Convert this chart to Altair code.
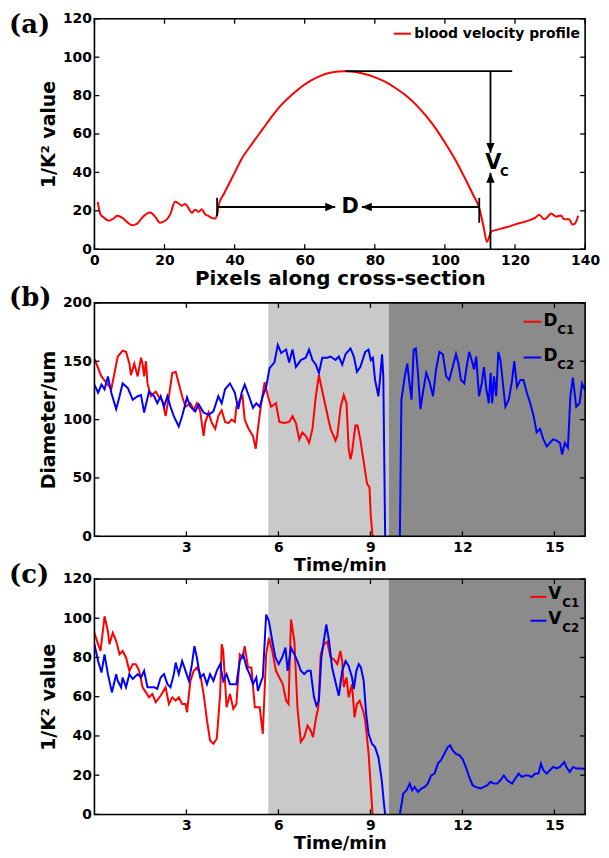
import altair as alt
import pandas as pd

# ---------------- data ----------------
# (a) blood velocity profile along the cross-section
prof_px = [0.95, 1.7, 2.6, 4.1, 5.5, 6.4, 7.9, 9.3, 10.7, 12.1, 14.0, 15.9, 17.3, 18.7, 20.2,
           21.6, 23.0, 24.0, 24.9, 25.9, 26.8, 27.8, 28.7, 29.7, 30.6, 31.6, 32.5, 33.5, 34.4,
           35.1, 35.4, 37.0, 39.5, 42.0, 45.0, 48.0, 50.6, 53.0, 56.1, 59.0, 61.6, 64.5, 67.2,
           69.5, 71.6, 74.5, 78.2, 81.0, 83.8, 86.5, 89.3, 92.0, 94.8, 97.6, 100.4, 103.0,
           105.9, 108.0, 109.8, 111.0, 112.0, 113.2, 115.0, 117.0, 118.4, 120.5, 122.2, 124.0,
           125.8, 126.9, 128.4, 129.3, 130.3, 131.7, 133.1, 134.0, 135.4, 136.4, 137.1, 138.0]
prof_val = [24.7, 18.3, 16.6, 14.8, 16.0, 17.4, 16.5, 14.2, 12.5, 13.2, 17.2, 19.1, 17.0, 13.8,
            14.8, 18.0, 24.7, 23.9, 22.7, 23.6, 21.5, 19.0, 20.5, 19.5, 20.8, 18.2, 17.4, 16.2,
            16.0, 18.6, 22.7, 29.0, 38.0, 47.0, 55.0, 62.5, 69.0, 74.5, 80.0, 84.5, 87.7, 90.3,
            91.9, 92.6, 92.7, 92.3, 90.7, 88.8, 86.4, 83.2, 79.4, 74.8, 69.0, 62.3, 54.4, 46.5,
            36.3, 28.5, 21.5, 12.0, 3.8, 9.2, 10.2, 11.2, 11.9, 13.2, 14.0, 15.0, 16.5, 17.9,
            15.6, 16.8, 18.6, 17.0, 17.6, 15.6, 15.6, 12.9, 13.3, 17.4]

# (b) diameters (um) vs time (min)
dc1_t = [0, 0.23, 0.55, 0.76, 0.92, 1.03, 1.14, 1.19, 1.3, 1.41, 1.52, 1.57, 1.62, 1.68, 1.73,
         1.84, 2.0, 2.11, 2.22, 2.32, 2.43, 2.54, 2.65, 2.75, 2.86, 2.97, 3.13, 3.24, 3.34, 3.45,
         3.56, 3.61, 3.72, 3.83, 3.94, 4.04, 4.15, 4.26, 4.37, 4.47, 4.58, 4.63, 4.74, 4.83, 4.9,
         5.01, 5.12, 5.17, 5.26, 5.33, 5.44, 5.55, 5.66, 5.76, 5.92, 6.03, 6.19, 6.35, 6.46,
         6.57, 6.68, 6.78, 6.89, 7.0, 7.11, 7.22, 7.32, 7.54, 7.7, 7.86, 7.92, 8.03, 8.13, 8.22,
         8.29, 8.35, 8.4, 8.51, 8.58, 8.67, 8.78, 8.89, 8.97, 9.01, 9.07]
dc1_v = [152, 137, 126, 154, 159, 158, 148, 138, 148, 137, 153, 148, 137, 150, 131,
         120, 124, 119, 116, 103, 120, 140, 141, 131, 120, 111, 114, 108, 114, 107,
         86, 97, 106, 97, 92, 103, 108, 98, 97, 100, 98, 111, 117, 120, 100,
         93, 88, 86, 75, 92, 114, 132, 120, 111, 114, 98, 97, 98, 103,
         97, 83, 89, 86, 80, 92, 120, 138, 111, 92, 82, 86, 111, 121, 114,
         75, 66, 72, 95, 95, 83, 64, 45, 42, 18, 0]
dc2a_t = [0, 0.12, 0.23, 0.33, 0.44, 0.55, 0.71, 0.82, 0.92, 1.09, 1.25, 1.41, 1.52, 1.62, 1.78,
          1.95, 2.05, 2.16, 2.27, 2.38, 2.48, 2.59, 2.75, 2.86, 3.02, 3.13, 3.29, 3.4, 3.56, 3.72,
          3.88, 4.04, 4.15, 4.26, 4.42, 4.58, 4.69, 4.8, 4.9, 5.04, 5.17, 5.28, 5.39, 5.49, 5.6,
          5.71, 5.87, 5.98, 6.09, 6.25, 6.35, 6.46, 6.57, 6.73, 6.89, 7.0, 7.11, 7.22, 7.32, 7.43,
          7.59, 7.7, 7.86, 7.97, 8.08, 8.19, 8.35, 8.46, 8.56, 8.67, 8.83, 8.94, 9.01, 9.08, 9.15,
          9.26, 9.32, 9.38, 9.42, 9.48]
dc2a_v = [130, 123, 130, 126, 137, 123, 109, 120, 131, 127, 117, 120, 121, 106, 124,
          120, 114, 120, 111, 120, 111, 103, 94, 103, 119, 111, 107, 113, 106, 104,
          107, 120, 114, 126, 131, 123, 109, 123, 130, 120, 110, 114, 111, 120, 128,
          144, 149, 164, 157, 160, 149, 160, 145, 151, 153, 160, 151, 147, 140, 153,
          153, 154, 151, 154, 147, 156, 161, 154, 141, 145, 158, 160, 151, 153, 134,
          120, 137, 156, 137, 0]
dc2b_t = [9.96, 10.01, 10.12, 10.2, 10.26, 10.34, 10.41, 10.48, 10.55, 10.63, 10.71, 10.82, 10.93,
          11.04, 11.14, 11.25, 11.36, 11.47, 11.57, 11.68, 11.79, 11.87, 11.95, 12.06, 12.13,
          12.22, 12.3, 12.38, 12.45, 12.54, 12.63, 12.7, 12.78, 12.86, 12.92, 12.97, 13.03, 13.1,
          13.17, 13.24, 13.32, 13.4, 13.51, 13.62, 13.69, 13.78, 13.89, 13.99, 14.1, 14.21,
          14.32, 14.42, 14.53, 14.64, 14.75, 14.85, 14.96, 15.07, 15.18, 15.25, 15.34, 15.44,
          15.52, 15.6, 15.71, 15.82, 15.9, 16.0]
dc2b_v = [0, 117, 137, 148, 134, 117, 160, 161, 140, 109, 123, 140, 132,
          120, 143, 158, 156, 137, 134, 145, 156, 148, 134, 131, 144,
          158, 151, 143, 154, 120, 131, 145, 126, 114, 140, 114, 137, 120,
          158, 151, 131, 111, 117, 134, 150, 128, 134, 134, 123, 114,
          103, 89, 92, 83, 77, 80, 83, 82, 80, 70, 80, 76,
          120, 136, 111, 114, 131, 125]

# (c) 1/K^2 values vs time (min)
vc1_t = [0, 0.12, 0.2, 0.33, 0.44, 0.49, 0.6, 0.71, 0.82, 0.92, 1.03, 1.14, 1.25, 1.35, 1.46,
         1.57, 1.68, 1.78, 1.89, 2.0, 2.16, 2.32, 2.43, 2.54, 2.65, 2.75, 2.86, 2.97, 3.02, 3.13,
         3.24, 3.34, 3.45, 3.56, 3.67, 3.77, 3.88, 3.99, 4.1, 4.15, 4.2, 4.31, 4.42, 4.53, 4.63,
         4.74, 4.83, 4.9, 5.01, 5.12, 5.23, 5.39, 5.49, 5.6, 5.69, 5.8, 5.92, 6.03, 6.14, 6.25,
         6.33, 6.41, 6.52, 6.62, 6.73, 6.84, 6.95, 7.05, 7.13, 7.22, 7.3, 7.38, 7.48, 7.59, 7.7,
         7.81, 7.92, 8.02, 8.08, 8.13, 8.22, 8.29, 8.4, 8.48, 8.56, 8.65, 8.76, 8.83, 8.94, 9.01,
         9.07]
vc1_v = [92.6, 86.7, 83.3, 101, 93.4, 86.7, 92.6, 88.4, 81.6, 83.3, 80, 73.2, 76.6, 76.6, 73.2,
         64.8, 62.2, 59.7, 61.4, 57.2, 60.5, 64.8, 56.3, 59.7, 58, 59.7, 56.3, 56.3, 52.1, 68.1,
         73.2, 74.9, 71.5, 61.4, 47.9, 37.7, 36, 38.6, 61.4, 86.7, 83.3, 54.6, 61.4, 53.8, 56.3,
         81.6, 80, 85.8, 74.9, 74.9, 54.6, 54.6, 41.1, 81.6, 90, 83.3, 73.2, 69.8, 66.4, 58,
         56.3, 99.4, 88.4, 54.6, 36.9, 39.4, 45.3, 42.8, 39.4, 48.7, 54.6, 81.6, 86.7, 88, 80,
         79, 76.6, 83.3, 78.2, 64.8, 69.8, 59.7, 66.4, 49.5, 56.3, 58, 52.9, 47.9, 31, 14.2,
         0]
vc2a_t = [0, 0.12, 0.23, 0.33, 0.44, 0.57, 0.71, 0.76, 0.87, 0.92, 1.03, 1.14, 1.25, 1.41, 1.52,
          1.62, 1.73, 1.95, 2.05, 2.16, 2.27, 2.38, 2.48, 2.59, 2.65, 2.75, 2.86, 2.97, 3.08,
          3.18, 3.26, 3.34, 3.45, 3.56, 3.67, 3.77, 3.88, 3.99, 4.1, 4.2, 4.31, 4.42, 4.53, 4.63,
          4.74, 4.85, 4.96, 5.06, 5.17, 5.28, 5.33, 5.44, 5.49, 5.6, 5.69, 5.8, 5.9, 6.01, 6.12,
          6.23, 6.3, 6.41, 6.52, 6.62, 6.73, 6.84, 6.95, 7.05, 7.16, 7.24, 7.32, 7.4, 7.48, 7.56,
          7.65, 7.75, 7.9, 7.97, 8.08, 8.19, 8.29, 8.4, 8.46, 8.54, 8.62, 8.69, 8.78, 8.86, 8.94,
          9.05, 9.15, 9.26, 9.37, 9.44, 9.48]
vc2a_v = [86.7, 78.2, 72.3, 81.6, 71.5, 62.2, 71.5, 68.1, 64.8, 69.8, 64.8, 71.5, 69, 71.5, 69.8,
          73.2, 64.8, 64.8, 64, 69.8, 71.5, 66.4, 64.8, 71.5, 77.4, 71.5, 78.2, 73.2, 68.1,
          76.6, 85.8, 80, 69.8, 71.5, 66.4, 71.5, 68.1, 73.2, 76.6, 68.1, 71.5, 66.4, 66.4, 66.4,
          78.2, 81.6, 74.9, 71.5, 66.4, 69.8, 63, 68.1, 69.8, 101.9, 98.5, 88.4, 80, 76.6, 80,
          85, 73.2, 85, 81.6, 78.2, 73.2, 71.5, 73.2, 73.2, 59.7, 55.5, 58, 80, 88.4, 96.8,
          88.4, 74.9, 64.8, 60.5, 73.2, 78.2, 75.7, 69.8, 64, 73.2, 76.6, 74.9, 68.1, 51.2, 41.1,
          36, 34.3, 29.2, 17.4, 5.6, 0]
vc2b_t = [9.96, 10.07, 10.18, 10.28, 10.36, 10.44, 10.55, 10.66, 10.77, 10.87, 10.98, 11.09, 11.2,
          11.3, 11.41, 11.52, 11.6, 11.68, 11.79, 11.9, 12.0, 12.11, 12.22, 12.33, 12.43, 12.59,
          12.7, 12.81, 12.92, 13.02, 13.13, 13.24, 13.35, 13.46, 13.62, 13.72, 13.83, 13.94,
          14.05, 14.15, 14.26, 14.37, 14.48, 14.56, 14.64, 14.74, 14.85, 14.96, 15.07, 15.18,
          15.32, 15.39, 15.5, 15.61, 15.71, 15.82, 15.9, 16.0]
vc2b_v = [0, 10.6, 12.3, 15.7, 12.3, 14, 11.5, 13.2, 14, 15.7, 19.9, 20.8, 25.9,
          27.6, 30.9, 34.3, 35.2, 32.6, 30.9, 30.1, 28.4, 24.2, 19.1, 14.9, 14, 13.2,
          14, 14.9, 16.6, 15.7, 15.7, 17.4, 19.9, 17.4, 15.7, 18.2, 20.8, 19.1,
          19.9, 19.9, 19.1, 20.8, 20.8, 25.9, 22.5, 20.8, 22.5, 24.2, 23.4, 24.2,
          26.7, 24.2, 21.6, 24.2, 23.4, 23.4, 23.4, 23.0]

# experiment phases (shaded backgrounds), minutes
phase_start = [5.67, 9.6]
phase_end = [9.6, 16.0]
phase_color = ["#c9c9c9", "#8b8b8b"]

# axis ticks
a_xticks = [0, 20, 40, 60, 80, 100, 120, 140]
a_yticks = [0, 20, 40, 60, 80, 100, 120]
b_xticks = [3, 6, 9, 12, 15]
b_yticks = [0, 50, 100, 150, 200]
c_yticks = [0, 20, 40, 60, 80, 100, 120]

# (a) annotations in data units
peak_x = [71.6, 119.2]
peak_y = 92.7
vc_x = 113.0
vc_down = [92.7, 50.2]
vc_up = [0.0, 39.8]
d_y = 22.0
d_left, d_right = 35.0, 109.8
d_tip_r, d_tip_l = 68.7, 76.3
d_bar_left = [17.3, 26.8]
d_bar_right = [13.8, 26.8]

RED = "#ff0000"
BLUE = "#0000ff"
FONT = "DejaVu Sans"
W = 494
TL = 5  # inward tick length
ARROW = "M0,0L-1,-0.42L-1,0.42Z"


def axes(xdom, ydom, xvals, yvals, xtitle, ytitle, xtsize=18, ytsize=19):
    xax = alt.Axis(values=xvals, ticks=False, domain=False, grid=False, labelFont=FONT,
                   labelFontWeight="bold", labelFontSize=14, labelColor="black", labelPadding=4,
                   labelFlush=False, labelOverlap=False, titleFont=FONT, titleFontWeight="bold",
                   titleFontSize=xtsize, titleColor="black", titlePadding=2)
    yax = alt.Axis(values=yvals, ticks=False, domain=False, grid=False, labelFont=FONT,
                   labelFontWeight="bold", labelFontSize=14, labelColor="black", labelPadding=3,
                   labelFlush=False, labelOverlap=False, titleFont=FONT, titleFontWeight="bold",
                   titleFontSize=ytsize, titleColor="black", titlePadding=4)

    def X(f):
        return alt.X(f, type="quantitative", scale=alt.Scale(domain=xdom, nice=False, zero=False),
                     axis=xax, title=xtitle)

    def Y(f):
        return alt.Y(f, type="quantitative", scale=alt.Scale(domain=ydom, nice=False, zero=False),
                     axis=yax, title=ytitle)
    return X, Y


def frame_layers(X, Y, xvals, yvals, H, tag, tag_y):
    xt = pd.DataFrame({"v": xvals})
    yt = pd.DataFrame({"v": yvals})
    one = pd.DataFrame({"k": [0]})
    r = dict(color="black", strokeWidth=1.3)
    return [
        alt.Chart(xt).mark_rule(**r).encode(x=X("v"), y=alt.value(H), y2=alt.value(H - TL)),
        alt.Chart(xt).mark_rule(**r).encode(x=X("v"), y=alt.value(0), y2=alt.value(TL)),
        alt.Chart(yt).mark_rule(**r).encode(y=Y("v"), x=alt.value(0), x2=alt.value(TL)),
        alt.Chart(yt).mark_rule(**r).encode(y=Y("v"), x=alt.value(W), x2=alt.value(W - TL)),
        alt.Chart(one).mark_rect(fillOpacity=0, stroke="black", strokeWidth=1.6).encode(
            x=alt.value(0), x2=alt.value(W), y=alt.value(0), y2=alt.value(H)),
        alt.Chart(one).mark_text(text=tag, font="DejaVu Serif", fontWeight="bold", fontSize=26,
                                 align="left", baseline="middle", color="black").encode(
            x=alt.value(-86), y=alt.value(tag_y)),
    ]


def line(X, Y, t, v, color):
    df = pd.DataFrame({"t": t, "v": v})
    return alt.Chart(df).mark_line(color=color, strokeWidth=2, clip=True).encode(x=X("t"), y=Y("v"))


def shading(X, H):
    df = pd.DataFrame({"start": phase_start, "end": phase_end, "shade": phase_color})
    return alt.Chart(df).mark_rect().encode(
        x=X("start"), x2="end", y=alt.value(0), y2=alt.value(H),
        color=alt.Color("shade:N", scale=None))


def legend_entry(sym, sub, color, lx0, lx1, ly, tx, ty, sx, sy):
    one = pd.DataFrame({"k": [0]})
    return [
        alt.Chart(one).mark_rule(color=color, strokeWidth=2).encode(
            x=alt.value(lx0), x2=alt.value(lx1), y=alt.value(ly)),
        alt.Chart(one).mark_text(text=sym, font=FONT, fontWeight="bold", fontSize=17, align="left",
                                 baseline="middle", color="black").encode(x=alt.value(tx), y=alt.value(ty)),
        alt.Chart(one).mark_text(text=sub, font=FONT, fontWeight="bold", fontSize=12, align="left",
                                 baseline="middle", color="black").encode(x=alt.value(sx), y=alt.value(sy)),
    ]


# ---------------- panel (a) ----------------
HA = 232
Xa, Ya = axes([0, 140], [0, 120], a_xticks, a_yticks, "Pixels along cross-section", "1/K² value",
              xtsize=20)
prof = pd.DataFrame({"p": prof_px, "v": prof_val, "name": "blood velocity profile"})
prof_line = alt.Chart(prof).mark_line(strokeWidth=2, clip=True, interpolate="monotone").encode(
    x=Xa("p"), y=Ya("v"),
    color=alt.Color("name:N", scale=alt.Scale(domain=["blood velocity profile"], range=[RED]),
                    legend=alt.Legend(orient="top-right", title=None, symbolType="stroke",
                                      symbolStrokeWidth=2, symbolSize=300, labelFont=FONT,
                                      labelFontWeight="bold", labelFontSize=14, labelColor="black",
                                      labelLimit=400, offset=5, padding=0, labelOffset=2)))

blk = dict(color="black", strokeWidth=1.8)
ann = []
ann.append(alt.Chart(pd.DataFrame({"x": [peak_x[0]], "x2": [peak_x[1]], "y": [peak_y]}))
           .mark_rule(**blk).encode(x=Xa("x"), x2="x2", y=Ya("y")))
ann.append(alt.Chart(pd.DataFrame({"x": [vc_x, vc_x], "y": [vc_down[0], vc_up[0]], "y2": [vc_down[1], vc_up[1]]}))
           .mark_rule(**blk).encode(x=Xa("x"), y=Ya("y"), y2="y2"))
ann.append(alt.Chart(pd.DataFrame({"x": [d_left, d_right], "x2": [d_tip_r, d_tip_l], "y": [d_y, d_y]}))
           .mark_rule(**blk).encode(x=Xa("x"), x2="x2", y=Ya("y")))
ann.append(alt.Chart(pd.DataFrame({"x": [d_left, d_right], "y": [d_bar_left[0], d_bar_right[0]],
                                   "y2": [d_bar_left[1], d_bar_right[1]]}))
           .mark_rule(**blk).encode(x=Xa("x"), y=Ya("y"), y2="y2"))
heads = pd.DataFrame({"x": [vc_x, vc_x, d_tip_r, d_tip_l],
                      "y": [vc_down[1], vc_up[1], d_y, d_y],
                      "ang": [90, 270, 0, 180]})
ann.append(alt.Chart(heads).mark_point(shape=ARROW, size=400, filled=True, color="black", opacity=1,
                                        strokeWidth=0).encode(
    x=Xa("x"), y=Ya("y"), angle=alt.Angle("ang:Q", scale=None)))
labels_a = pd.DataFrame({"x": [73.0, 113.8], "y": [22.2, 45.0], "t": ["D", "V"]})
ann.append(alt.Chart(labels_a).mark_text(font=FONT, fontWeight="bold", fontSize=21, color="black",
                                         align="center", baseline="middle").encode(
    x=Xa("x"), y=Ya("y"), text="t:N"))
ann.append(alt.Chart(pd.DataFrame({"x": [117.0], "y": [40.3], "t": ["C"]})).mark_text(
    font=FONT, fontWeight="bold", fontSize=12, color="black", align="center", baseline="middle").encode(
    x=Xa("x"), y=Ya("y"), text="t:N"))

panel_a = alt.layer(prof_line, *ann, *frame_layers(Xa, Ya, a_xticks, a_yticks, HA, "(a)", 6)).properties(
    width=W, height=HA)

# ---------------- panel (b) ----------------
HB = 235
Xb, Yb = axes([0, 16], [0, 200], b_xticks, b_yticks, "Time/min", "Diameter/um")
panel_b = alt.layer(
    shading(Xb, HB),
    line(Xb, Yb, dc1_t, dc1_v, RED),
    line(Xb, Yb, dc2a_t, dc2a_v, BLUE),
    line(Xb, Yb, dc2b_t, dc2b_v, BLUE),
    *legend_entry("D", "C1", RED, 432, 450, 19, 452, 18, 466, 27),
    *legend_entry("D", "C2", BLUE, 432, 450, 55, 452, 54, 466, 63),
    *frame_layers(Xb, Yb, b_xticks, b_yticks, HB, "(b)", -5),
).properties(width=W, height=HB)

# ---------------- panel (c) ----------------
HC = 237
Xc, Yc = axes([0, 16], [0, 120], b_xticks, c_yticks, "Time/min", "1/K² value")
panel_c = alt.layer(
    shading(Xc, HC),
    line(Xc, Yc, vc1_t, vc1_v, RED),
    line(Xc, Yc, vc2a_t, vc2a_v, BLUE),
    line(Xc, Yc, vc2b_t, vc2b_v, BLUE),
    *legend_entry("V", "C1", RED, 439, 455, 18, 457, 15, 471, 24),
    *legend_entry("V", "C2", BLUE, 439, 455, 42, 457, 40, 471, 49),
    *frame_layers(Xc, Yc, b_xticks, c_yticks, HC, "(c)", -4),
).properties(width=W, height=HC)

chart = alt.vconcat(
    panel_a,
    alt.vconcat(panel_b, panel_c, spacing=43, bounds="flush"),
    spacing=54, bounds="flush",
).properties(padding=0).configure_view(strokeWidth=0).configure(background="white")

chart.save("out.html", embed_options={"renderer": "svg", "actions": False})
